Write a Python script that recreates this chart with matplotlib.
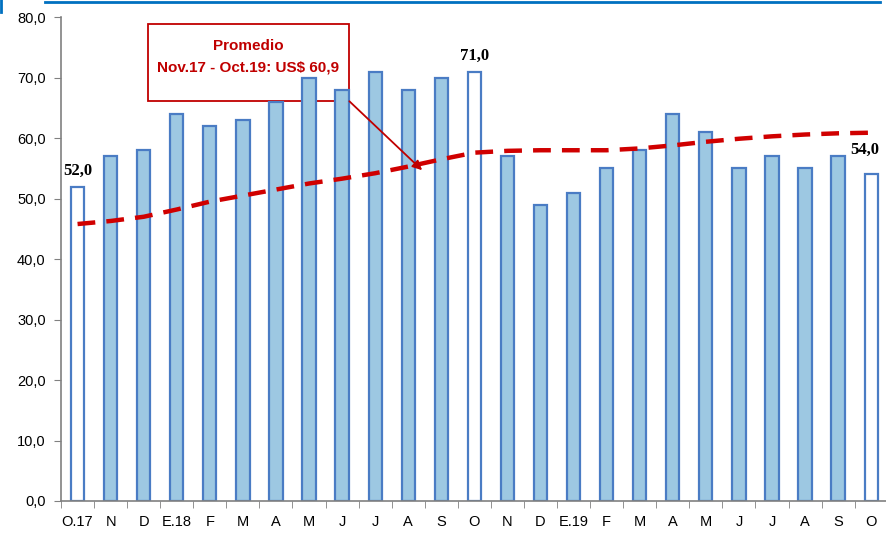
import matplotlib
matplotlib.use("Agg")
import matplotlib.pyplot as plt
from matplotlib.lines import Line2D
from matplotlib.patches import Rectangle
from matplotlib import font_manager

categories = ["O.17", "N", "D", "E.18", "F", "M", "A", "M", "J", "J", "A", "S", "O",
              "N", "D", "E.19", "F", "M", "A", "M", "J", "J", "A", "S", "O"]
values = [52, 57, 58, 64, 62, 63, 66, 70, 68, 71, 68, 70, 71,
          57, 49, 51, 55, 58, 64, 61, 55, 57, 55, 57, 54]
trend = [45.8, 46.3, 47.0, 48.2, 49.5, 50.5, 51.5, 52.5, 53.3, 54.2, 55.3, 56.5, 57.6,
         57.9, 58.0, 58.0, 58.0, 58.3, 58.8, 59.4, 59.9, 60.3, 60.6, 60.8, 60.9]
highlight = [0, 12, 24]
labels = {0: "52,0", 12: "71,0", 24: "54,0"}
yticks = [0, 10, 20, 30, 40, 50, 60, 70, 80]

names = {f.name for f in font_manager.fontManager.ttflist}
if "Liberation Sans Narrow" in names:
    sans, tsize, bsize = "Liberation Sans Narrow", 12, 12.5
else:
    sans, tsize, bsize = "Liberation Sans", 10.5, 11

fig = plt.figure(figsize=(8.87, 5.34), dpi=100)
ax = fig.add_axes([0.0688, 0.0618, 0.932, 0.906])

x = list(range(len(categories)))
fills = ["white" if i in highlight else "#9DC8E2" for i in x]
ax.bar(x, values, width=0.4, color=fills, edgecolor="#4A7CC4", linewidth=1.6, zorder=2)
ax.plot(x, trend, color="#D00000", linestyle=(0, (4, 2.5)), linewidth=3.2, zorder=3)

for i, t in labels.items():
    if i == 24:
        ax.text(i - 0.2, values[i] + 2.8, t, ha="center", va="bottom",
                fontfamily="Liberation Serif", fontweight="bold", fontsize=12, zorder=4)
    else:
        ax.text(i, values[i] + 1.2, t, ha="center", va="bottom",
                fontfamily="Liberation Serif", fontweight="bold", fontsize=12, zorder=4)

ax.set_xlim(-0.5, 24.5)
ax.set_ylim(0, 80)
ax.set_yticks(yticks)
ax.set_yticklabels([f"{v:.1f}".replace(".", ",") for v in yticks],
                   fontfamily=sans, fontsize=tsize)
ax.set_xticks(x)
ax.set_xticklabels(categories, fontfamily=sans, fontsize=tsize)
ax.set_xticks([i - 0.5 for i in range(len(categories) + 1)], minor=True)
ax.tick_params(axis="x", which="major", length=0, pad=10)
ax.tick_params(axis="x", which="minor", length=5, color="#808080")
ax.tick_params(axis="y", length=5, color="#808080", pad=6)
for s in ["top", "right"]:
    ax.spines[s].set_visible(False)
for s in ["left", "bottom"]:
    ax.spines[s].set_color("#808080")
    ax.spines[s].set_linewidth(1.2)

# annotation box (drawn beneath the bars, as in the reference)
bx0, bx1, by0, by1 = 2.12, 8.22, 66.1, 78.8
ax.add_patch(Rectangle((bx0, by0), bx1 - bx0, by1 - by0, facecolor="white",
                       edgecolor="#C00000", linewidth=1.3, zorder=1.5, clip_on=False))
ax.text((bx0 + bx1) / 2, 75.3, "Promedio", ha="center", va="center", color="#C00000",
        fontfamily=sans, fontweight="bold", fontsize=bsize, zorder=1.6)
ax.text((bx0 + bx1) / 2, 71.7, "Nov.17 - Oct.19: US$ 60,9", ha="center", va="center",
        color="#C00000", fontfamily=sans, fontweight="bold", fontsize=bsize, zorder=1.6)
ax.annotate("", xy=(10.42, 54.7), xytext=(bx1, by0),
            arrowprops=dict(arrowstyle="-|>", color="#C00000", lw=1.3, mutation_scale=14,
                            shrinkA=0, shrinkB=0), zorder=5)

fig.add_artist(Line2D([45/887, 880/887], [1 - 1.5/534, 1 - 1.5/534], color="#0070C0", linewidth=2))
fig.add_artist(Line2D([1/887, 1/887], [1, 1 - 12/534], color="#0070C0", linewidth=2))

fig.savefig("out.png", dpi=100)
